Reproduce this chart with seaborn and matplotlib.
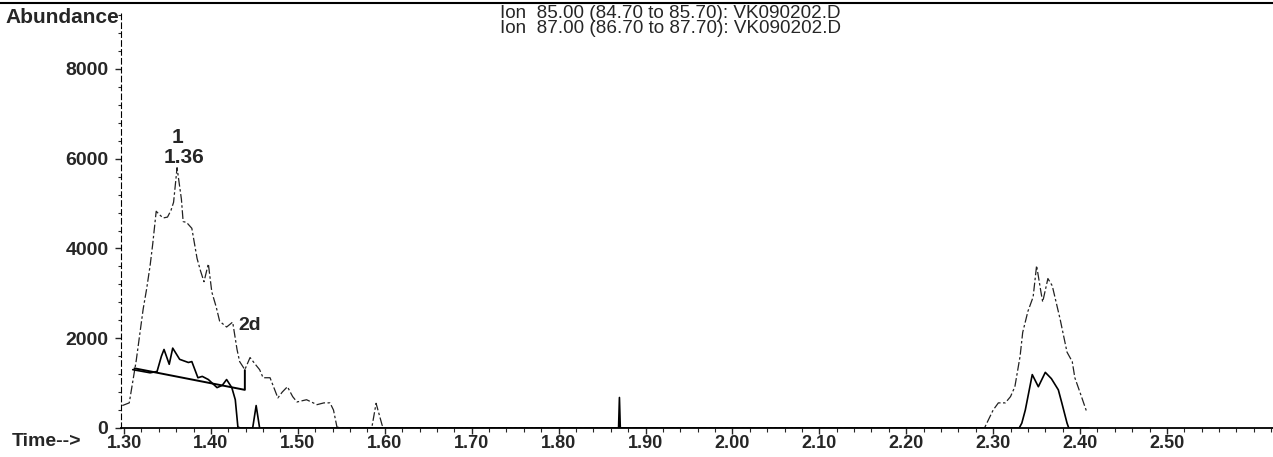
import numpy as np
import pandas as pd
import seaborn as sns
import matplotlib.pyplot as plt
from matplotlib.lines import Line2D
from matplotlib.ticker import MultipleLocator

# Ion 85 trace (time in min, abundance)
ion85_time = [1.298, 1.306, 1.314, 1.322, 1.326, 1.330, 1.333, 1.337, 1.341, 1.345,
              1.350, 1.354, 1.357, 1.361, 1.366, 1.368, 1.372, 1.378, 1.384, 1.388,
              1.392, 1.397, 1.401, 1.406, 1.410, 1.418, 1.425, 1.430, 1.433, 1.439,
              1.445, 1.451, 1.456, 1.460, 1.468, 1.477, 1.482, 1.488, 1.494, 1.499,
              1.510, 1.522, 1.530, 1.537, 1.541, 1.545, 1.550, 1.585, 1.590, 1.597,
              1.600, 2.290, 2.300, 2.306, 2.314, 2.320, 2.325, 2.331, 2.334, 2.340,
              2.346, 2.350, 2.355, 2.357, 2.363, 2.368, 2.377, 2.385, 2.391, 2.394,
              2.400, 2.408]
ion85_abund = [500, 560, 1500, 2650, 3100, 3620, 4100, 4830, 4750, 4680,
               4700, 4850, 5030, 5800, 5100, 4600, 4580, 4450, 3780, 3500,
               3260, 3660, 3030, 2700, 2380, 2250, 2360, 1750, 1480, 1300,
               1570, 1420, 1300, 1120, 1120, 670, 800, 920, 700, 580,
               630, 520, 560, 560, 400, 20, 0, 0, 550, 60,
               0, 0, 400, 560, 560, 700, 920, 1600, 2130, 2600,
               2920, 3620, 3030, 2810, 3330, 3170, 2430, 1690, 1480, 1120,
               790, 340]

# Ion 87 trace
ion87_time = [1.310, 1.330, 1.338, 1.343, 1.346, 1.352, 1.356, 1.364, 1.374, 1.378,
              1.385, 1.390, 1.397, 1.407, 1.413, 1.418, 1.424, 1.428, 1.431, 1.434,
              1.448, 1.452, 1.456, 1.869, 1.870, 1.871, 2.330, 2.333, 2.337, 2.345,
              2.352, 2.360, 2.367, 2.375, 2.379, 2.385, 2.387, 2.410]
ion87_abund = [1300, 1230, 1260, 1600, 1750, 1420, 1780, 1530, 1460, 1480,
               1120, 1150, 1080, 900, 950, 1080, 900, 630, 20, 0,
               0, 500, 0, 0, 680, 0, 0, 110, 400, 1190,
               920, 1240, 1100, 850, 560, 110, 0, 0]

# integration baseline for peak 2d
base_time = [1.312, 1.439, 1.439]
base_abund = [1330, 850, 1290]

x_ticks = [1.30, 1.40, 1.50, 1.60, 1.70, 1.80, 1.90, 2.00, 2.10, 2.20, 2.30, 2.40, 2.50]
y_ticks = [0, 2000, 4000, 6000, 8000]

sns.set_theme(style="white")
plt.rcParams['font.family'] = ['Liberation Sans', 'DejaVu Sans']

fig = plt.figure(figsize=(12.73, 4.57), dpi=100)
ax = fig.add_axes([121 / 1273, 1 - 428 / 457, 1 - 121 / 1273, (428 - 12) / 457])

df85 = pd.DataFrame({"time": ion85_time, "abund": ion85_abund})
df87 = pd.DataFrame({"time": ion87_time, "abund": ion87_abund})
dfb = pd.DataFrame({"time": base_time, "abund": base_abund})

sns.lineplot(data=df85, x="time", y="abund", ax=ax, color="#222222", lw=0.9,
             estimator=None, sort=False, linestyle=(0, (7, 2, 2, 2)))
sns.lineplot(data=df87, x="time", y="abund", ax=ax, color="black", lw=1.2,
             estimator=None, sort=False)
sns.lineplot(data=dfb, x="time", y="abund", ax=ax, color="black", lw=1.4,
             estimator=None, sort=False)

ax.set_xlim(1.2965, 2.622)
ax.set_ylim(0, 9270)
ax.set_xlabel("")
ax.set_ylabel("")

ax.set_xticks(x_ticks)
ax.set_xticklabels([f"{t:.2f}" for t in x_ticks], fontsize=13, fontweight="bold")
ax.set_yticks(y_ticks)
ax.set_yticklabels([str(t) for t in y_ticks], fontsize=14, fontweight="bold")
ax.xaxis.set_minor_locator(MultipleLocator(0.02))
ax.yaxis.set_minor_locator(MultipleLocator(400))
ax.tick_params(axis="x", which="major", direction="out", length=4, width=1, pad=1, bottom=True)
ax.tick_params(axis="x", which="minor", direction="out", length=3, width=0.8, bottom=True)
ax.tick_params(axis="y", which="major", direction="out", length=4, width=1, pad=5, left=True)
ax.tick_params(axis="y", which="minor", direction="out", length=2, width=0.8, left=True)

for s in ["top", "right"]:
    ax.spines[s].set_visible(False)
ax.spines["bottom"].set_linewidth(1.3)
ax.spines["bottom"].set_color("black")
ax.spines["left"].set_linewidth(0.8)
ax.spines["left"].set_color("black")
ax.spines["left"].set_linestyle((0, (5, 3)))

# peak labels
ax.text(1.361, 6480, "1", fontsize=15, fontweight="bold", ha="center", va="center")
ax.text(1.369, 6035, "1.36", fontsize=15, fontweight="bold", ha="center", va="center")
ax.text(1.431, 2290, "2d", fontsize=14, fontweight="bold", ha="left", va="center")

# header / footer text
fig.text(5 / 1273, 1 - 17.5 / 457, "Abundance", fontsize=15, fontweight="bold",
         ha="left", va="center")
fig.text(500 / 1273, 1 - 21 / 457,
         "Ion  85.00 (84.70 to 85.70): VK090202.D\nIon  87.00 (86.70 to 87.70): VK090202.D",
         fontsize=13.6, ha="left", va="center", linespacing=0.85)
fig.text(12 / 1273, 1 - 441 / 457, "Time-->", fontsize=14, fontweight="bold",
         ha="left", va="center")

# border line along the top
fig.add_artist(Line2D([0, 1], [1 - 3 / 457, 1 - 3 / 457], color="black", lw=1.5,
                      transform=fig.transFigure))

fig.savefig("out.png", dpi=100)
